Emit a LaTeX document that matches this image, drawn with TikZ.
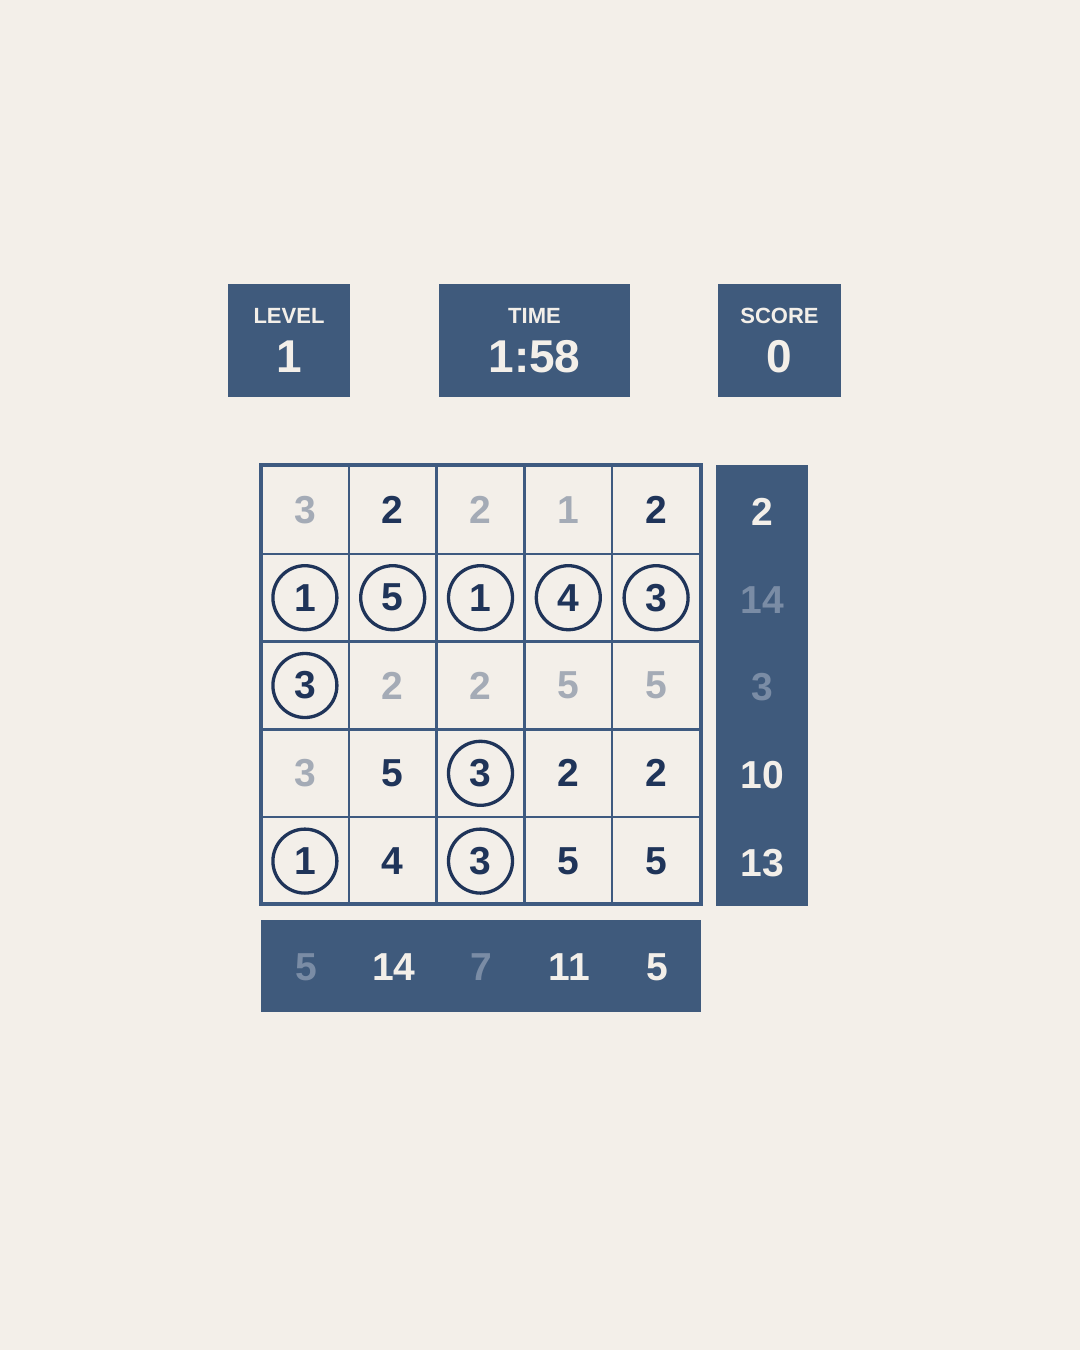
\documentclass[tikz,border=0pt]{standalone}
\usepackage{fontspec}
\setmainfont{Liberation Sans}
\usetikzlibrary{positioning}
\definecolor{paper}{HTML}{F3EFE9}
\definecolor{panel}{HTML}{3F5A7C}
\definecolor{gridblue}{HTML}{3E5A80}
\definecolor{ink}{HTML}{1F3459}
\definecolor{shade}{HTML}{A4ABB6}
\definecolor{faded}{HTML}{7A8CA5}
\tikzstyle{plate}=[fill=panel, draw=none, inner sep=0pt]
\tikzstyle{caption}=[text=paper, font=\fontsize{22}{26}\selectfont\bfseries, inner sep=0pt]
\tikzstyle{reading}=[text=paper, font=\fontsize{46}{55}\selectfont\bfseries, inner sep=0pt]
\tikzstyle{cell}=[draw=gridblue, line width=2.5pt, minimum size=87.8pt, inner sep=0pt,
  font=\fontsize{39}{47}\selectfont\bfseries]
\tikzstyle{greyed}=[text=shade]
\tikzstyle{inked}=[text=ink]
\tikzstyle{ringed}=[text=ink, path picture={\draw[ink, line width=3.3pt]
  (path picture bounding box.center) circle (32pt);}]
\tikzstyle{sum}=[inner sep=0pt, font=\fontsize{39}{47}\selectfont\bfseries]
\tikzstyle{lit}=[text=paper]
\tikzstyle{dull}=[text=faded]
\begin{document}
\begin{tikzpicture}[x=1pt,y=-1pt]
    \fill[paper] (0,0) rectangle (1080,1350);
    \useasboundingbox (0,0) rectangle (1080,1350);

    % Header
    \node[plate, minimum width=122pt, minimum height=113pt] (level) at (289,340.5) {};
    \node[plate, minimum width=191pt, minimum height=113pt] (time) at (534.5,340.5) {};
    \node[plate, minimum width=123pt, minimum height=113pt] (score) at (779.5,340.5) {};
    \node[caption] (level label) at (289,316) {LEVEL};
    \node[caption] (time label) at (534.5,316) {TIME};
    \node[caption] (score label) at (779.5,316) {SCORE};
    \node[reading] (level value) at (289,357) {1};
    \node[reading] (time value) at (534.5,357) {1:58};
    \node[reading] (score value) at (779.5,357) {0};

    % Sum panels
    \fill[panel] (716,465) rectangle (808,906);
    \fill[panel] (261,920) rectangle (701,1012);

    % Cells
    \foreach \v/\s [count=\i from 0] in {3/greyed,2/inked,2/greyed,1/greyed,2/inked,
        1/ringed,5/ringed,1/ringed,4/ringed,3/ringed,
        3/ringed,2/greyed,2/greyed,5/greyed,5/greyed,
        3/greyed,5/inked,3/ringed,2/inked,2/inked,
        1/ringed,4/inked,3/ringed,5/inked,5/inked}{
      \pgfmathtruncatemacro\r{div(\i,5)}
      \pgfmathtruncatemacro\c{mod(\i,5)}
      \node[cell,\s] (cell-\r-\c) at (304.9+87.8*\c, 509.9+87.8*\r) {\v};
    }
    \draw[gridblue, line width=3.5pt] (261,465) rectangle (701,904);

    % Sums
    \foreach \v/\s [count=\r from 0] in {2/lit,14/dull,3/dull,10/lit,13/lit}
      \node[sum,\s] (row-\r) at (762, 511.9+87.8*\r) {\v};
    \foreach \v/\s [count=\c from 0] in {5/dull,14/lit,7/dull,11/lit,5/lit}
      \node[sum,\s] (col-\c) at (305.9+87.8*\c, 967) {\v};

\end{tikzpicture}
\end{document}
